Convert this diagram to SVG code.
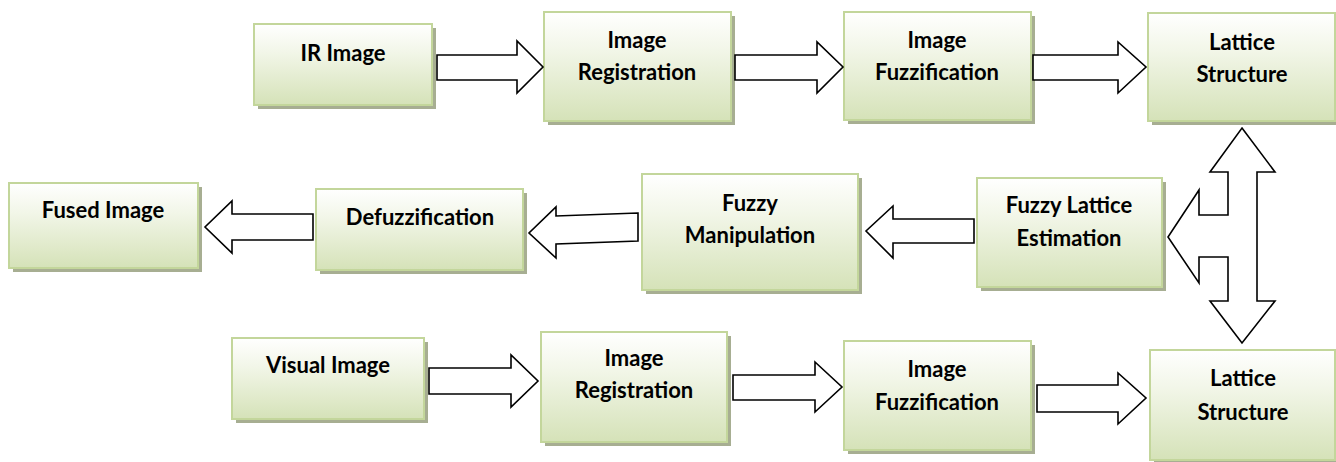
<svg xmlns="http://www.w3.org/2000/svg" width="1336" height="462" viewBox="0 0 1336 462">
<defs>
<linearGradient id="g" x1="0" y1="0" x2="0" y2="1">
<stop offset="0" stop-color="#ffffff"/>
<stop offset="0.35" stop-color="#f2f6e8"/>
<stop offset="1" stop-color="#d5e2b8"/>
</linearGradient>
<style>
.sh{fill:#a7ae92}
.bx{fill:url(#g);stroke:#c3d69b;stroke-width:2}
.t{font-family:Lato,"Liberation Sans",sans-serif;font-weight:bold;font-size:22px;fill:#000;text-anchor:middle}
.ar{fill:#fff;stroke:#000;stroke-width:1.6;stroke-linejoin:miter}
</style>
</defs>
<rect width="1336" height="462" fill="#fff"/>

<g id="ir-image">
<rect class="sh" x="258" y="28" width="178" height="81"/>
<rect class="bx" x="254" y="24" width="178" height="81"/>
<text class="t" x="343" y="61">IR Image</text>
</g>
<g id="image-registration-1">
<rect class="sh" x="548" y="16" width="187" height="109"/>
<rect class="bx" x="544" y="12" width="187" height="109"/>
<text class="t" x="637" y="48">Image</text>
<text class="t" x="637" y="80">Registration</text>
</g>
<g id="image-fuzzification-1">
<rect class="sh" x="848" y="16" width="187" height="108"/>
<rect class="bx" x="844" y="12" width="187" height="108"/>
<text class="t" x="937" y="48">Image</text>
<text class="t" x="937" y="80">Fuzzification</text>
</g>
<g id="lattice-structure-1">
<rect class="sh" x="1152" y="17" width="187" height="108"/>
<rect class="bx" x="1148" y="13" width="187" height="108"/>
<text class="t" x="1242" y="50">Lattice</text>
<text class="t" x="1242" y="82">Structure</text>
</g>
<g id="fused-image">
<rect class="sh" x="13" y="187" width="189" height="85"/>
<rect class="bx" x="9" y="183" width="189" height="85"/>
<text class="t" x="103" y="218">Fused Image</text>
</g>
<g id="defuzzification">
<rect class="sh" x="320" y="193" width="207" height="81"/>
<rect class="bx" x="316" y="189" width="207" height="81"/>
<text class="t" x="420" y="225">Defuzzification</text>
</g>
<g id="fuzzy-manipulation">
<rect class="sh" x="646" y="178" width="216" height="116"/>
<rect class="bx" x="642" y="174" width="216" height="116"/>
<text class="t" x="750" y="211">Fuzzy</text>
<text class="t" x="750" y="243">Manipulation</text>
</g>
<g id="fuzzy-lattice-estimation">
<rect class="sh" x="981" y="182" width="185" height="109"/>
<rect class="bx" x="977" y="178" width="185" height="109"/>
<text class="t" x="1069" y="213">Fuzzy Lattice</text>
<text class="t" x="1069" y="246">Estimation</text>
</g>
<g id="visual-image">
<rect class="sh" x="236" y="342" width="192" height="81"/>
<rect class="bx" x="232" y="338" width="192" height="81"/>
<text class="t" x="328" y="373">Visual Image</text>
</g>
<g id="image-registration-2">
<rect class="sh" x="545" y="336" width="186" height="110"/>
<rect class="bx" x="541" y="332" width="186" height="110"/>
<text class="t" x="634" y="366">Image</text>
<text class="t" x="634" y="398">Registration</text>
</g>
<g id="image-fuzzification-2">
<rect class="sh" x="848" y="345" width="187" height="109"/>
<rect class="bx" x="844" y="341" width="187" height="109"/>
<text class="t" x="937" y="377">Image</text>
<text class="t" x="937" y="410">Fuzzification</text>
</g>
<g id="lattice-structure-2">
<rect class="sh" x="1154" y="354" width="185" height="110"/>
<rect class="bx" x="1150" y="350" width="185" height="110"/>
<text class="t" x="1243" y="386">Lattice</text>
<text class="t" x="1243" y="420">Structure</text>
</g>

<g id="connectors">
<polygon class="ar" points="437,55 517,55 517,41 543,67 517,93 517,80 437,80"/>
<polygon class="ar" points="735,55 817,55 817,42 843,67 817,93 817,80 735,80"/>
<polygon class="ar" points="1033,55 1118,55 1118,42 1146,67 1118,93 1118,80 1033,80"/>
<polygon class="ar" points="313,214 232,214 232,201 205,227 232,253 232,240 313,240"/>
<polygon class="ar" points="638,213 556,216 556,207 529,233 556,258 556,244 638,241"/>
<polygon class="ar" points="974,219 893,219 893,206 866,231 893,258 893,243 974,243"/>
<polygon class="ar" points="429,368 511,368 511,355 538,381 511,407 511,394 429,394"/>
<polygon class="ar" points="733,375 815,375 815,362 842,387 815,412 815,400 733,400"/>
<polygon class="ar" points="1037,385 1118,385 1118,373 1146,398 1118,424 1118,412 1037,412"/>
<polygon class="ar" points="1242,128 1275,172 1257,172 1257,301 1275,301 1242,343 1210,301 1228,301 1228,257 1199,257 1199,283 1168,237 1199,190 1199,215 1228,215 1228,172 1210,172"/>
</g>
</svg>
